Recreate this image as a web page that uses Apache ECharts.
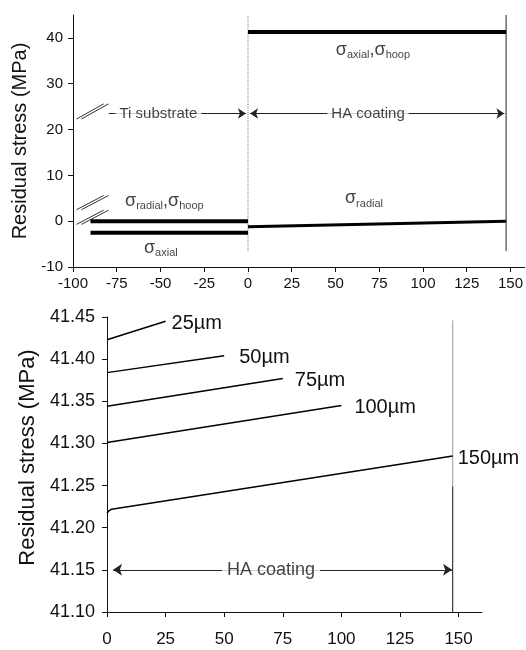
<!DOCTYPE html>
<html>
<head>
<meta charset="utf-8">
<script src="https://cdn.jsdelivr.net/npm/echarts@6/dist/echarts.min.js"></script>
<style>
html, body { margin: 0; padding: 0; background: #fff; }
#chart { width: 526px; height: 650px; }
</style>
</head>
<body>
<div id="chart"></div>
<script>
// ---- Upper panel: residual stress through Ti substrate and HA coating ----
const topXTicks = [-100, -75, -50, -25, 0, 25, 50, 75, 100, 125, 150];
const topYTicks = [-10, 0, 10, 20, 30, 40];
const coatingEnd = 147.5;
const substrateStart = -90;
const tiRadialHoop = [[substrateStart, 0], [0, 0]];
const tiAxial = [[substrateStart, -2.5], [0, -2.5]];
const haAxialHoop = [[0, 41.3], [coatingEnd, 41.3]];
const haRadial = [[0, -1.2], [coatingEnd, 0]];

// ---- Lower panel: axial/hoop stress in coatings of different thickness ----
const bottomXTicks = [0, 25, 50, 75, 100, 125, 150];
const bottomYTicks = [41.10, 41.15, 41.20, 41.25, 41.30, 41.35, 41.40, 41.45];
const thicknessNames = ['25µm', '50µm', '75µm', '100µm', '150µm'];
const stress25 = [[0, 41.423], [25, 41.445]];
const stress50 = [[0, 41.384], [50, 41.404]];
const stress75 = [[0, 41.344], [75, 41.377]];
const stress100 = [[0, 41.301], [100, 41.345]];
const stress150 = [[0, 41.217], [0.8, 41.220], [2, 41.222], [coatingEnd, 41.285]];
const thicknessSeries = [stress25, stress50, stress75, stress100, stress150];

const FONT = '"Liberation Sans", Arial, sans-serif';
const INK = '#111';

const chart = echarts.init(document.getElementById('chart'), null, { renderer: 'canvas' });

function valueAxis(gridIndex, min, max, ticks, opts) {
  return Object.assign({
    type: 'value', gridIndex, min, max,
    axisLine: { show: true, onZero: false, lineStyle: { color: INK, width: 1 } },
    axisTick: { show: true, length: 5, lineStyle: { color: INK }, customValues: ticks },
    axisLabel: { color: INK, fontFamily: FONT, customValues: ticks },
    splitLine: { show: false }
  }, opts);
}

const sigmaRich = {
  s: { fontSize: 18, fontFamily: FONT, color: INK },
  sub: { fontSize: 11, fontFamily: FONT, color: INK, padding: [11, 0, 0, 0] }
};

// Annotation anchors in the upper panel (data coordinates)
const topNotes = [
  { value: [71.4, 37.4], text: '{s|σ}{sub|axial}{s|,σ}{sub|hoop}' },
  { value: [66.3, 5.0], text: '{s|σ}{sub|radial}' },
  { value: [-47.8, 4.5], text: '{s|σ}{sub|radial}{s|,σ}{sub|hoop}' },
  { value: [-49.8, -5.8], text: '{s|σ}{sub|axial}' },
  { value: [-51.2, 23.5], text: 'Ti substrate', plain: true },
  { value: [68.6, 23.5], text: 'HA coating', plain: true }
];

// Axis-break slashes near the substrate end
const breakMarks = [
  [[-98, 22.3], [-82.5, 25.6]], [[-95.2, 22.3], [-79.7, 25.6]],
  [[-98, 2.5], [-82.5, 5.6]], [[-95.2, 2.5], [-79.7, 5.6]],
  [[-98, -0.7], [-82.5, 2.4]], [[-95.2, -0.7], [-79.7, 2.4]]
];

function thickLine(data, width) {
  return {
    type: 'line', xAxisIndex: 0, yAxisIndex: 0, data,
    symbol: 'none', silent: true,
    lineStyle: { color: '#000', width }, z: 3
  };
}

const series = [];
series.push(thickLine(tiRadialHoop, 4));
series.push(thickLine(tiAxial, 4));
series.push(thickLine(haAxialHoop, 4));
series.push(thickLine(haRadial, 3));

// coating/substrate interface (dotted) and free surface
series.push({
  type: 'line', xAxisIndex: 0, yAxisIndex: 0, data: [[0, -6.5], [0, 45]],
  symbol: 'none', silent: true, lineStyle: { color: '#777', width: 1, type: 'dotted' }, z: 2
});
series.push({
  type: 'line', xAxisIndex: 0, yAxisIndex: 0, data: [[coatingEnd, -6.5], [coatingEnd, 45]],
  symbol: 'none', silent: true, lineStyle: { color: '#222', width: 1 }, z: 2,
  markLine: {
    silent: true, animation: false,
    lineStyle: { color: '#222', width: 1, type: 'solid' },
    label: { show: false },
    symbolSize: 8,
    data: [
      [{ coord: [-79.5, 23.5], symbol: 'none' }, { coord: [-1.2, 23.5], symbol: 'arrow' }],
      [{ coord: [1.2, 23.5], symbol: 'arrow' }, { coord: [146.5, 23.5], symbol: 'arrow' }]
    ]
  }
});
breakMarks.forEach(seg => series.push({
  type: 'line', xAxisIndex: 0, yAxisIndex: 0, data: seg,
  symbol: 'none', silent: true, lineStyle: { color: '#333', width: 1 }, z: 2
}));
series.push({
  type: 'scatter', xAxisIndex: 0, yAxisIndex: 0, symbolSize: 0, silent: true, z: 10,
  data: topNotes.map(n => ({
    value: n.value,
    label: n.plain ? {
      show: true, position: 'inside', formatter: n.text, fontSize: 15, fontFamily: FONT,
      color: INK, backgroundColor: '#fff', padding: [1, 4]
    } : {
      show: true, position: 'inside', formatter: n.text, rich: sigmaRich
    }
  }))
});

// lower panel curves
const labelGaps = [6, 15, 12, 13, 5];
thicknessSeries.forEach((d, i) => series.push({
  type: 'line', name: thicknessNames[i], xAxisIndex: 1, yAxisIndex: 1, data: d,
  symbol: 'none', silent: true, lineStyle: { color: '#000', width: 1.5 }, z: 3,
  endLabel: {
    show: true, formatter: '{a}', distance: labelGaps[i], offset: [0, 2],
    fontSize: 20, fontFamily: FONT, color: INK
  }
}));
// coating surface marker in the lower panel
series.push({
  type: 'line', xAxisIndex: 1, yAxisIndex: 1, data: [[coatingEnd, 41.249], [coatingEnd, 41.446]],
  symbol: 'none', silent: true, lineStyle: { color: '#999', width: 1 }, z: 2
});
series.push({
  type: 'line', xAxisIndex: 1, yAxisIndex: 1, data: [[coatingEnd, 41.10], [coatingEnd, 41.249]],
  symbol: 'none', silent: true, lineStyle: { color: '#111', width: 1 }, z: 2,
  markLine: {
    silent: true, animation: false,
    lineStyle: { color: '#222', width: 1, type: 'solid' },
    label: { show: false },
    symbolSize: 9,
    data: [
      [{ coord: [2.6, 41.15], symbol: 'arrow' }, { coord: [147.2, 41.15], symbol: 'arrow' }]
    ]
  }
});
series.push({
  type: 'scatter', xAxisIndex: 1, yAxisIndex: 1, symbolSize: 0, silent: true, z: 10,
  data: [{ value: [70, 41.15] }],
  label: {
    show: true, position: 'inside', formatter: 'HA coating', fontSize: 18, fontFamily: FONT,
    color: INK, backgroundColor: '#fff', padding: [1, 5]
  }
});

chart.setOption({
  animation: false,
  backgroundColor: '#fff',
  grid: [
    { left: 73, top: 15, right: 0, bottom: 383 },
    { left: 107, top: 317, right: 44, bottom: 38 }
  ],
  xAxis: [
    valueAxis(0, -100, 158, topXTicks, {
      axisLabel: { color: INK, fontFamily: FONT, fontSize: 15, margin: 9, customValues: topXTicks }
    }),
    valueAxis(1, 0, 160, bottomXTicks, {
      axisLabel: { color: INK, fontFamily: FONT, fontSize: 17, margin: 19, customValues: bottomXTicks }
    })
  ],
  yAxis: [
    valueAxis(0, -10, 45, topYTicks, {
      name: 'Residual stress (MPa)', nameLocation: 'middle', nameGap: 40,
      nameTextStyle: { fontSize: 20, fontFamily: FONT, color: INK },
      axisLabel: { color: INK, fontFamily: FONT, fontSize: 15, margin: 10, customValues: topYTicks }
    }),
    valueAxis(1, 41.10, 41.45, bottomYTicks, {
      name: 'Residual stress (MPa)', nameLocation: 'middle', nameGap: 66,
      nameTextStyle: { fontSize: 22, fontFamily: FONT, color: INK, padding: [0, 0, 0, 14] },
      axisLabel: {
        color: INK, fontFamily: FONT, fontSize: 18, margin: 12, customValues: bottomYTicks,
        formatter: v => v.toFixed(2)
      }
    })
  ],
  series
});
</script>
</body>
</html>
